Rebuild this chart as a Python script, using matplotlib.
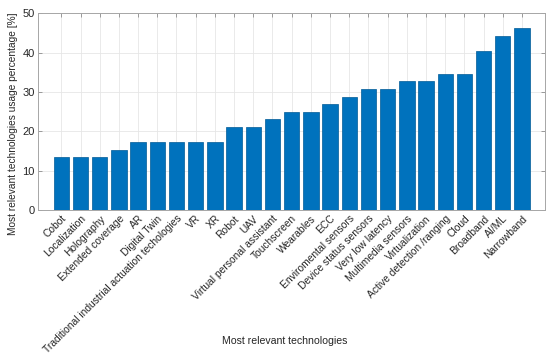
import matplotlib.pyplot as plt
import numpy as np

technologies = ["Cobot", "Localization", "Holography", "Extended coverage", "AR",
                "Digital Twin", "Traditional industrial actuation techologies", "VR",
                "XR", "Robot", "UAV", "Virtual personal assistant", "Touchscreen",
                "Wearables", "ECC", "Enviromental sensors", "Device status sensors",
                "Very low latency", "Multimedia sensors", "Virtualization",
                "Active detection /ranging", "Cloud", "Broadband", "AI/ML", "Narrowband"]
usage = [13.46, 13.46, 13.46, 15.38, 17.31,
         17.31, 17.31, 17.31,
         17.31, 21.15, 21.15, 23.08, 25.0,
         25.0, 26.92, 28.85, 30.77,
         30.77, 32.69, 32.69,
         34.62, 34.62, 40.38, 44.23, 46.15]

plt.rcParams['font.family'] = ['Liberation Sans', 'DejaVu Sans']
fs = 7.6

fig = plt.figure(figsize=(5.5, 3.56), dpi=100)
ax = fig.add_axes([0.0696, 0.41, 0.9214, 0.5526])

x = np.arange(1, len(usage) + 1)
ax.bar(x, usage, width=0.8, color='#0072BD', edgecolor='#005a96', linewidth=0.5, zorder=3)

ax.set_xlim(-0.2, 26.2)
ax.set_ylim(0, 50)
ax.set_xticks(x)
ax.set_xticklabels(technologies, rotation=45, ha='right', rotation_mode='anchor',
                   fontsize=7.35, color='#262626')
ax.set_yticks([0, 10, 20, 30, 40, 50])
ax.tick_params(axis='y', labelsize=fs + 0.4, labelcolor='#262626')
ax.tick_params(direction='in', length=3, width=0.6, color='#8c8c8c',
               top=True, right=True, pad=2.5)
ax.grid(True, color='#e6e6e6', linewidth=0.6, zorder=0)
for s in ax.spines.values():
    s.set_color('#a6a6a6')
    s.set_linewidth(0.7)

ax.set_xlabel("Most relevant technologies", fontsize=fs, color='#262626')
ax.set_ylabel("Most relevant technologies usage percentage [%]", fontsize=7.3, color='#262626')
ax.xaxis.set_label_coords(0.486, -0.64)
ax.yaxis.set_label_coords(-0.041, 0.44)

fig.savefig("out.png", dpi=100)
